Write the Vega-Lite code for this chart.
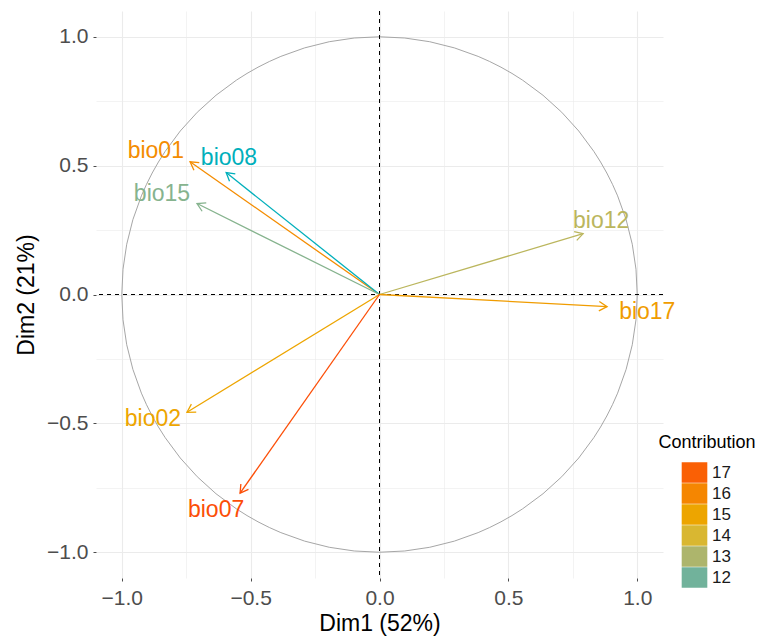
{
  "$schema": "https://vega.github.io/schema/vega-lite/v6.json",
  "width": 567,
  "height": 567,
  "autosize": "none",
  "padding": {"left": 96, "top": 11, "right": 95, "bottom": 63},
  "background": "white",
  "config": {
    "view": {"stroke": null},
    "font": "Liberation Sans"
  },
  "data": {
    "values": [
      {"name": "bio01", "x": -0.735, "y": 0.515, "lx": -0.868, "ly": 0.555, "contrib": 15.8},
      {"name": "bio08", "x": -0.595, "y": 0.473, "lx": -0.584, "ly": 0.529, "contrib": 11.3},
      {"name": "bio15", "x": -0.708, "y": 0.353, "lx": -0.844, "ly": 0.391, "contrib": 12.3},
      {"name": "bio12", "x": 0.790, "y": 0.236, "lx": 0.860, "ly": 0.287, "contrib": 13.3},
      {"name": "bio17", "x": 0.883, "y": -0.047, "lx": 1.039, "ly": -0.066, "contrib": 15.3},
      {"name": "bio02", "x": -0.747, "y": -0.457, "lx": -0.879, "ly": -0.484, "contrib": 15.0},
      {"name": "bio07", "x": -0.541, "y": -0.771, "lx": -0.634, "ly": -0.837, "contrib": 17.4}
    ]
  },
  "layer": [
    {
      "data": {"values": [{"cx": 0, "cy": 0}]},
      "mark": {"type": "point", "shape": "circle", "filled": false, "size": 265700, "stroke": "#A6A6A6", "strokeWidth": 1, "opacity": 1},
      "encoding": {
        "x": {
          "field": "cx", "type": "quantitative",
          "scale": {"domain": [-1.1, 1.1], "nice": false, "zero": false},
          "axis": {
            "values": [-1, -0.75, -0.5, -0.25, 0, 0.25, 0.5, 0.75, 1],
            "labelExpr": "(abs(datum.value*2 - round(datum.value*2)) < 0.001) ? format(datum.value, '.1f') : ''",
            "title": "Dim1 (52%)",
            "domain": false,
            "grid": true,
            "gridColor": "#EBEBEB",
            "gridWidth": {"condition": {"test": "abs(datum.value*2 - round(datum.value*2)) < 0.001", "value": 1.1}, "value": 0.6},
            "tickColor": "#4D4D4D",
            "tickSize": 3,
            "tickOpacity": {"condition": {"test": "abs(datum.value*2 - round(datum.value*2)) < 0.001", "value": 1}, "value": 0},
            "labelFontSize": 21,
            "labelColor": "#4D4D4D",
            "labelPadding": 6,
            "titleFontSize": 23,
            "titleFontWeight": "normal",
            "titleColor": "#000000",
            "titlePadding": 4
          }
        },
        "y": {
          "field": "cy", "type": "quantitative",
          "scale": {"domain": [-1.1, 1.1], "nice": false, "zero": false},
          "axis": {
            "values": [-1, -0.75, -0.5, -0.25, 0, 0.25, 0.5, 0.75, 1],
            "labelExpr": "(abs(datum.value*2 - round(datum.value*2)) < 0.001) ? format(datum.value, '.1f') : ''",
            "title": "Dim2 (21%)",
            "domain": false,
            "grid": true,
            "gridColor": "#EBEBEB",
            "gridWidth": {"condition": {"test": "abs(datum.value*2 - round(datum.value*2)) < 0.001", "value": 1.1}, "value": 0.6},
            "tickColor": "#4D4D4D",
            "tickSize": 3,
            "tickOpacity": {"condition": {"test": "abs(datum.value*2 - round(datum.value*2)) < 0.001", "value": 1}, "value": 0},
            "labelFontSize": 21,
            "labelColor": "#4D4D4D",
            "labelPadding": 5,
            "titleFontSize": 23,
            "titleFontWeight": "normal",
            "titleColor": "#000000",
            "titlePadding": 8
          }
        }
      }
    },
    {
      "data": {"values": [{"v": 0}]},
      "mark": {"type": "rule", "color": "#000000", "strokeDash": [4, 4], "strokeWidth": 1},
      "encoding": {"x": {"field": "v", "type": "quantitative"}}
    },
    {
      "data": {"values": [{"v": 0}]},
      "mark": {"type": "rule", "color": "#000000", "strokeDash": [4, 4], "strokeWidth": 1},
      "encoding": {"y": {"field": "v", "type": "quantitative"}}
    },
    {
      "mark": {"type": "rule", "strokeWidth": 1.3},
      "encoding": {
        "x": {"field": "x", "type": "quantitative"},
        "y": {"field": "y", "type": "quantitative"},
        "x2": {"datum": 0},
        "y2": {"datum": 0},
        "color": {
          "field": "contrib", "type": "quantitative",
          "scale": {"domain": [11.3, 14.35, 17.4], "range": ["#00AFBB", "#E7B800", "#FC4E07"], "interpolate": "lab"},
          "legend": {
            "title": "Contribution",
            "orient": "none",
            "legendX": 562,
            "legendY": 423,
            "titleAnchor": "middle",
            "titleFontSize": 18,
            "titleFontWeight": "normal",
            "titleColor": "#000000",
            "titlePadding": 10,
            "values": [17, 16, 15, 14, 13, 12],
            "symbolType": "M-1.25,-1L1.25,-1L1.25,1L-1.25,1Z",
            "symbolSize": 420,
            "symbolStrokeWidth": 0,
            "symbolOpacity": 1,
            "rowPadding": 0,
            "labelFontSize": 17,
            "labelColor": "#1A1A1A",
            "labelOffset": 7,
            "encode": {
              "symbols": {
                "update": {
                  "shape": {"value": "M-1.25,-1L1.25,-1L1.25,1L-1.25,1Z"},
                  "size": {"value": 420},
                  "strokeWidth": {"value": 0},
                  "opacity": {"value": 1}
                }
              }
            }
          }
        }
      }
    },
    {
      "transform": [{"calculate": "-atan2(datum.y, datum.x) * 180 / PI", "as": "ang"}],
      "mark": {"type": "point", "shape": "M-1,-0.58L0,0L-1,0.58", "filled": false, "size": 256, "strokeWidth": 1.3, "opacity": 1},
      "encoding": {
        "x": {"field": "x", "type": "quantitative"},
        "y": {"field": "y", "type": "quantitative"},
        "angle": {"field": "ang", "type": "quantitative", "scale": null},
        "stroke": {
          "field": "contrib", "type": "quantitative",
          "scale": {"domain": [11.3, 14.35, 17.4], "range": ["#00AFBB", "#E7B800", "#FC4E07"], "interpolate": "lab"},
          "legend": null
        }
      }
    },
    {
      "mark": {"type": "text", "fontSize": 23, "align": "center", "baseline": "middle"},
      "encoding": {
        "x": {"field": "lx", "type": "quantitative"},
        "y": {"field": "ly", "type": "quantitative"},
        "text": {"field": "name"},
        "color": {"field": "contrib", "type": "quantitative"}
      }
    }
  ]
}
